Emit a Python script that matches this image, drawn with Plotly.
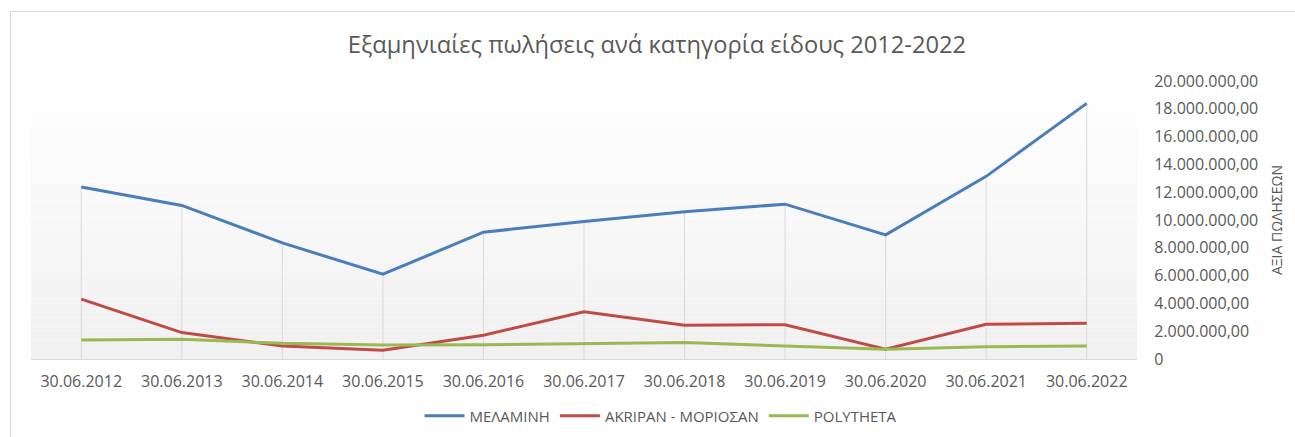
import plotly.graph_objects as go

categories = ["30.06.2012", "30.06.2013", "30.06.2014", "30.06.2015", "30.06.2016",
              "30.06.2017", "30.06.2018", "30.06.2019", "30.06.2020", "30.06.2021", "30.06.2022"]
melamini = [12.37e6, 11.05e6, 8.35e6, 6.10e6, 9.12e6, 9.90e6, 10.60e6, 11.14e6, 8.93e6, 13.14e6, 18.39e6]
akripan = [4.31e6, 1.90e6, 0.94e6, 0.63e6, 1.71e6, 3.39e6, 2.43e6, 2.47e6, 0.70e6, 2.50e6, 2.57e6]
polytheta = [1.37e6, 1.42e6, 1.13e6, 1.01e6, 1.03e6, 1.10e6, 1.18e6, 0.94e6, 0.70e6, 0.89e6, 0.94e6]
series_names = ["ΜΕΛΑΜΙΝΗ", "AKRIPAN - ΜΟΡΙΟΣΑΝ", "POLYTHETA"]
series_colors = ["#4A7EBB", "#BE4B48", "#98B954"]
y_ticks = [i * 2_000_000 for i in range(11)]
title_text = "Εξαμηνιαίες πωλήσεις ανά κατηγορία είδους 2012-2022"
y_title = "ΑΞΙΑ ΠΩΛΗΣΕΩΝ"


def fmt(v):
    if v == 0:
        return "0"
    s = f"{v:,.2f}"
    return s.replace(",", "X").replace(".", ",").replace("X", ".")


W, H = 1295, 437
L, R, T, B = 31, 158, 81, 78
pw, ph = W - L - R, H - T - B

fig = go.Figure()

# drop lines from the highest value down to the axis
all_series = [melamini, akripan, polytheta]
dx, dy = [], []
for i, c in enumerate(categories):
    top = max(s[i] for s in all_series)
    dx += [c, c, None]
    dy += [0, top, None]
fig.add_trace(go.Scatter(x=dx, y=dy, mode="lines", line=dict(color="#D9D9D9", width=1),
                         showlegend=False, hoverinfo="skip"))

for name, vals, col in zip(series_names, all_series, series_colors):
    fig.add_trace(go.Scatter(x=categories, y=vals, mode="lines", name=name,
                             line=dict(color=col, width=3)))

# gradient background of plot area
shapes = []
n = 60
for k in range(n):
    t0, t1 = k / n, (k + 1) / n
    frac = 1 - (t0 + t1) / 2  # 0 at top, 1 at bottom
    g = int(round(255 - (255 - 240) * frac))
    shapes.append(dict(type="rect", xref="x domain", yref="y domain", x0=0, x1=1,
                       y0=t0, y1=t1, fillcolor=f"rgb({g},{g},{g})", line=dict(width=0),
                       layer="below"))


def px2x(p):
    return (p - L) / pw


def px2y(p):
    return 1 - (p - T) / ph


# outer chart frame
shapes.append(dict(type="rect", xref="paper", yref="paper", x0=px2x(10.5), x1=px2x(1320),
                   y0=px2y(460), y1=px2y(11.5), line=dict(color="#D9D9D9", width=1),
                   fillcolor="rgba(0,0,0,0)", layer="below"))

fig.update_layout(
    width=W, height=H,
    margin=dict(l=L, r=R, t=T, b=B, autoexpand=False),
    paper_bgcolor="white",
    plot_bgcolor="rgba(0,0,0,0)",
    shapes=shapes,
    font=dict(family="Open Sans", color="#595959", size=16),
    title=dict(text=title_text, x=657 / W, xref="container", xanchor="center",
               y=1 - 45 / H, yref="container", yanchor="middle",
               font=dict(family="Open Sans", size=23.7, color="#595959")),
    showlegend=True,
    legend=dict(orientation="h", x=661 / W, xanchor="center", xref="container",
                y=1 - 416 / H, yref="container", yanchor="middle",
                font=dict(size=15, color="#595959"), itemwidth=40,
                bgcolor="rgba(0,0,0,0)"),
    xaxis=dict(type="category", range=[-0.5, len(categories) - 0.5], showgrid=False,
               showline=True, linecolor="#D9D9D9", linewidth=1, ticks="outside",
               ticklen=8, tickcolor="rgba(0,0,0,0)", tickfont=dict(size=16),
               zeroline=False, automargin=False),
    yaxis=dict(side="right", range=[0, 20_000_000], showgrid=False, zeroline=False,
               showline=False, tickvals=y_ticks, ticktext=[fmt(v) for v in y_ticks],
               ticks="outside", ticklen=13, tickcolor="rgba(0,0,0,0)",
               tickfont=dict(size=16), automargin=False),
    annotations=[dict(text=y_title, textangle=-90, xref="paper", yref="paper",
                      x=px2x(1276), y=px2y(220), xanchor="center", yanchor="middle",
                      showarrow=False, font=dict(size=14, color="#595959"))],
)

fig.write_html("out.html", config={"displayModeBar": False},
               post_script="document.body.style.margin='0';")
